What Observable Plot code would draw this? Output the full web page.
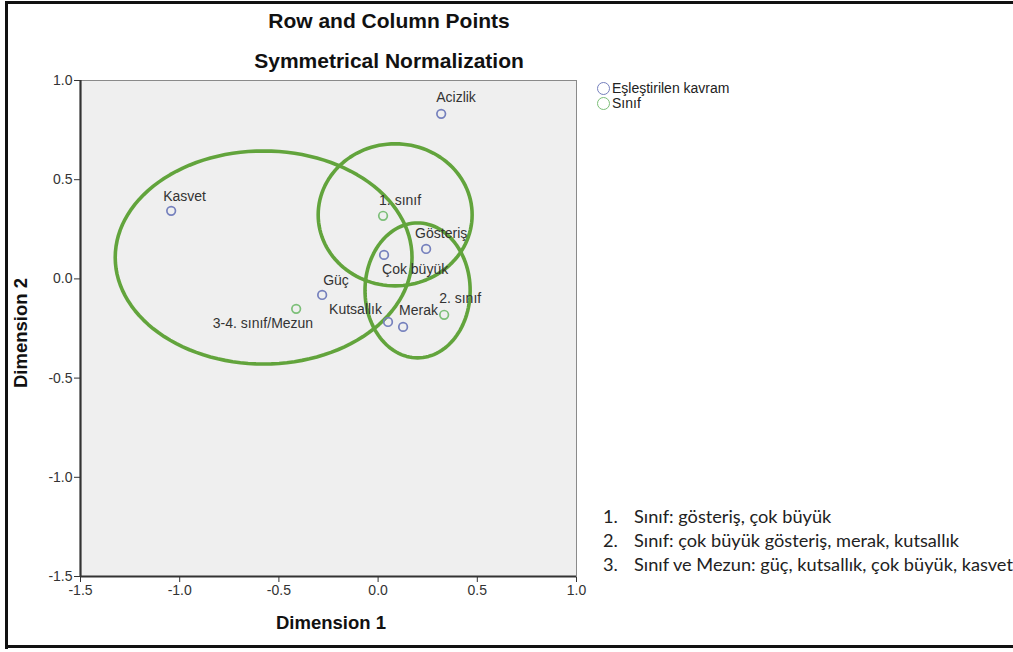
<!DOCTYPE html>
<html>
<head>
<meta charset="utf-8">
<script src="https://cdn.jsdelivr.net/npm/d3@7"></script>
<script src="https://cdn.jsdelivr.net/npm/@observablehq/plot@0.6"></script>
<style>
  html, body { margin: 0; padding: 0; background: #fff; overflow: hidden; }
  #wrap { position: relative; width: 1013px; height: 652px; overflow: hidden; font-family: "Liberation Sans", Arial, sans-serif; }
  #wrap svg { position: absolute; left: 0; top: 0; }
  .abs { position: absolute; white-space: nowrap; }
  .title { font-weight: bold; font-size: 21px; color: #111; width: 780px; text-align: center; }
  .axt { font-weight: bold; font-size: 18.5px; color: #111; width: 160px; text-align: center; }
  .leg { font-size: 14px; color: #222; display: flex; align-items: center; }
  .leg span.c { display: inline-block; width: 11px; height: 11px; border-radius: 50%; border: 1.8px solid; margin-right: 2px; background: #fff; }
  .note { font-family: Lato, "Open Sans", sans-serif; font-size: 18.2px; color: #222; }
  .note .n { display: inline-block; width: 31px; }
  .bline { position: absolute; background: #111; pointer-events: none; }
</style>
</head>
<body>
<div id="wrap"></div>
<script>
// ---- data ----
const conceptNames = ["Acizlik", "Kasvet", "Gösteriş", "Çok büyük", "Güç", "Kutsallık", "Merak"];
const conceptDim1 = [0.318, -1.043, 0.242, 0.030, -0.282, 0.050, 0.126];
const conceptDim2 = [0.832, 0.343, 0.151, 0.121, -0.081, -0.217, -0.242];

const classNames = ["1. sınıf", "2. sınıf", "3-4. sınıf/Mezun"];
const classDim1 = [0.025, 0.333, -0.413];
const classDim2 = [0.318, -0.181, -0.151];

const seriesNames = ["Eşleştirilen kavram", "Sınıf"];

// cluster ellipses (centre and semi-axes in dimension units)
const ellipseCx = [-0.577, 0.086, 0.199];
const ellipseCy = [0.108, 0.323, -0.058];
const ellipseRx = [0.748, 0.388, 0.265];
const ellipseRy = [0.537, 0.358, 0.340];

const xTicks = [-1.5, -1.0, -0.5, 0.0, 0.5, 1.0];
const yTicks = [-1.5, -1.0, -0.5, 0.0, 0.5, 1.0];

const titleLines = ["Row and Column Points", "Symmetrical Normalization"];
const xLabel = "Dimension 1";
const yLabel = "Dimension 2";
const notes = [
  ["1.", "Sınıf: gösteriş, çok büyük"],
  ["2.", "Sınıf: çok büyük gösteriş, merak, kutsallık"],
  ["3.", "Sınıf ve Mezun: güç, kutsallık, çok büyük, kasvet"]
];

// ---- styles / layout ----
const blue = "#7580bd";
const green = "#7cbf78";
const ellipseColor = "#62a43c";
const labelPlacement = {
  "Acizlik": {anchor: "start", dx: -5, dy: -16},
  "Kasvet": {anchor: "start", dx: -8, dy: -14},
  "Gösteriş": {anchor: "start", dx: -11, dy: -15},
  "Çok büyük": {anchor: "start", dx: -2, dy: 15},
  "Güç": {anchor: "start", dx: 1, dy: -14},
  "Kutsallık": {anchor: "end", dx: -6, dy: -12},
  "Merak": {anchor: "start", dx: -4, dy: -16},
  "1. sınıf": {anchor: "start", dx: -4, dy: -15},
  "2. sınıf": {anchor: "start", dx: -5, dy: -16},
  "3-4. sınıf/Mezun": {anchor: "end", dx: 17, dy: 15}
};

const concepts = conceptNames.map((name, i) => ({name, x: conceptDim1[i], y: conceptDim2[i], series: seriesNames[0]}));
const classes = classNames.map((name, i) => ({name, x: classDim1[i], y: classDim2[i], series: seriesNames[1]}));
const allPoints = concepts.concat(classes);

// outline of each ellipse sampled along its parameter
const ellipsePts = [];
ellipseCx.forEach((cx, k) => {
  const n = 120;
  for (let j = 0; j <= n; j++) {
    const t = (j / n) * 2 * Math.PI;
    ellipsePts.push({id: k, x: cx + ellipseRx[k] * Math.cos(t), y: ellipseCy[k] + ellipseRy[k] * Math.sin(t)});
  }
});

const labelMarks = Object.entries(labelPlacement).map(([name, p]) =>
  Plot.text(allPoints.filter(d => d.name === name), {
    x: "x", y: "y", text: "name", textAnchor: p.anchor, dx: p.dx, dy: p.dy,
    fontSize: 14, fill: "#333"
  })
);

const fmt = d => d.toFixed(1);

const chart = Plot.plot({
  width: 1013,
  height: 652,
  marginLeft: 80,
  marginRight: 437,
  marginTop: 80,
  marginBottom: 76,
  style: {fontFamily: "'Liberation Sans', Arial, sans-serif", fontSize: "14px", color: "#333", background: "transparent", overflow: "visible"},
  x: {domain: [-1.5, 1.0], ticks: xTicks, tickFormat: fmt, tickSize: 6, tickPadding: 3, label: null},
  y: {domain: [-1.5, 1.0], ticks: yTicks, tickFormat: fmt, tickSize: 6, tickPadding: 2, label: null},
  marks: [
    Plot.frame({fill: "#efefef", stroke: "#8a8a8a", strokeWidth: 1}),
    Plot.ruleX([-1.5], {stroke: "#333", strokeWidth: 2.2}),
    Plot.ruleY([-1.5], {stroke: "#333", strokeWidth: 2.2}),
    Plot.line(ellipsePts, {x: "x", y: "y", z: "id", stroke: ellipseColor, strokeWidth: 3.6, curve: "linear-closed"}),
    Plot.dot(concepts, {x: "x", y: "y", r: 4.3, stroke: blue, strokeWidth: 1.7, fill: "none"}),
    Plot.dot(classes, {x: "x", y: "y", r: 4.3, stroke: green, strokeWidth: 1.7, fill: "none"}),
    ...labelMarks
  ]
});

const wrap = document.getElementById("wrap");
wrap.appendChild(chart);

function addDiv(cls, html, left, top, extra) {
  const d = document.createElement("div");
  d.className = "abs " + cls;
  d.innerHTML = html;
  d.style.left = left + "px";
  d.style.top = top + "px";
  if (extra) Object.assign(d.style, extra);
  wrap.appendChild(d);
  return d;
}

addDiv("title", titleLines[0], 389 - 390, 9);
addDiv("title", titleLines[1], 389 - 390, 49);
addDiv("axt", xLabel, 331 - 80, 612);
addDiv("axt", yLabel, 22 - 80 - 1, 322, {transform: "rotate(-90deg)", transformOrigin: "50% 50%"});

[blue, green].forEach((c, i) => {
  addDiv("leg", `<span class="c" style="border-color:${c}"></span>${seriesNames[i]}`, 597, 80 + i * 15);
});

notes.forEach((n, i) => {
  addDiv("note", `<span class="n">${n[0]}</span>${n[1]}`, 603, 505 + i * 24);
});

// outer frame: left, top and bottom edges
[[5, 1, 1013, 3], [5, 1, 3, 648], [5, 645, 1013, 3]].forEach(([l, t, w, h]) => {
  const d = document.createElement("div");
  d.className = "bline";
  Object.assign(d.style, {left: l + "px", top: t + "px", width: w + "px", height: h + "px"});
  wrap.appendChild(d);
});
</script>
</body>
</html>
